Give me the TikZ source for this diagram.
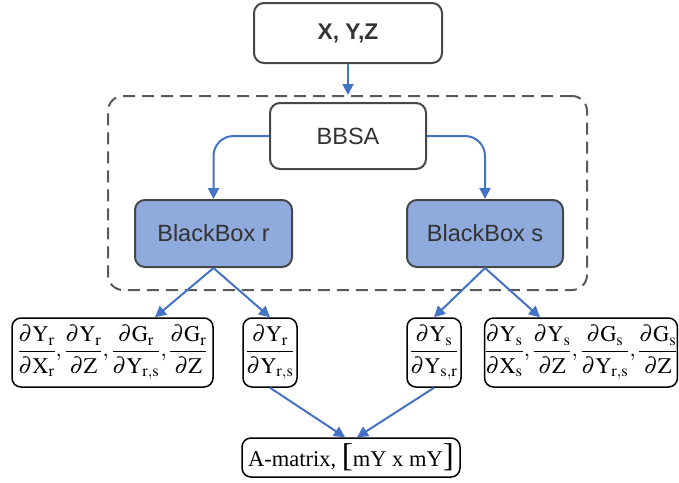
\documentclass[tikz,border=0pt]{standalone}
\usepackage{mathptmx}
\usepackage{fontspec}
\setmainfont{Liberation Serif}
\newfontfamily\arialfam{Liberation Sans}
\usetikzlibrary{arrows.meta,calc}
\definecolor{flowblue}{HTML}{4472C4}
\definecolor{boxfill}{HTML}{8FAADC}
\definecolor{boxedge}{HTML}{474747}
\definecolor{labelgray}{HTML}{333333}
% partial derivative with a little extra room above and below the bar
\newcommand{\pdf}[2]{{\displaystyle\frac{\partial\mathrm{#1}\rule[-4pt]{0pt}{4pt}}{\rule{0pt}{19pt}\partial\mathrm{#2}}}}
% tall square brackets set from the text font
\newcommand{\tallbrk}[1]{{\fontsize{33}{33}\selectfont#1}}
\begin{document}
\begin{tikzpicture}[x=1pt,y=-1pt,
  procbox/.style={draw=boxedge, line width=2pt, rounded corners=10pt, fill=white,
    inner sep=0pt, text=labelgray, font=\arialfam\fontsize{23.5}{27}\selectfont},
  bbox/.style={procbox, fill=boxfill},
  resbox/.style={draw=black, line width=1.5pt, rounded corners=9pt, fill=white,
    inner sep=0pt, font=\fontsize{22.3}{26}\selectfont},
  flow/.style={draw=flowblue, line width=2pt, -{Triangle[length=11pt,width=11pt]}},
  groupline/.style={draw=boxedge!90, line width=2pt, dash pattern=on 12pt off 7pt,
    rounded corners=15pt}
]
\useasboundingbox (0,0) rectangle (679,482);

% grouping frame round the sensitivity analysis block
\node[groupline, minimum width=479pt, minimum height=194pt, inner sep=0pt]
  (frame) at (347.5,193) {};

\node[procbox, minimum width=188pt, minimum height=60pt,
  font=\arialfam\bfseries\fontsize{22.7}{26}\selectfont] (xyz) at (348,33) {X, Y,Z};
\node[procbox, minimum width=156pt, minimum height=66pt] (bbsa) at (348,136) {BBSA};
\node[bbox, minimum width=157pt, minimum height=67pt] (bbr) at (213.5,233.5) {BlackBox r};
\node[bbox, minimum width=156pt, minimum height=67pt] (bbs) at (485,233.5) {BlackBox s};

% derivative outputs
\node[resbox, minimum width=201pt, minimum height=69pt] (dr) at (112.5,352.5)
  {$\pdf{Y_{\mathrm r}}{X_{\mathrm r}},\pdf{Y_{\mathrm r}}{Z},\pdf{G_{\mathrm r}}{Y_{\mathrm{r,s}}},\pdf{G_{\mathrm r}}{Z}$};
\node[resbox, minimum width=54pt, minimum height=69pt] (drs) at (270,352.5)
  {$\pdf{Y_{\mathrm r}}{Y_{\mathrm{r,s}}}$};
\node[resbox, minimum width=54pt, minimum height=69pt] (dsr) at (434,352.5)
  {$\pdf{Y_{\mathrm s}}{Y_{\mathrm{s,r}}}$};
\node[resbox, minimum width=192pt, minimum height=69pt] (ds) at (581,352.5)
  {$\pdf{Y_{\mathrm s}}{X_{\mathrm s}},\pdf{Y_{\mathrm s}}{Z},\pdf{G_{\mathrm s}}{Y_{\mathrm{r,s}}},\pdf{G_{\mathrm s}}{Z}$};

\node[resbox, minimum width=218pt, minimum height=39pt, font=\fontsize{22.5}{25}\selectfont]
  (amat) at (351,457.5) {A-matrix, \tallbrk{[}mY x mY\tallbrk{]}};

% connectors
\draw[flow] (xyz.south) -- (xyz.south |- frame.north);
\draw[flow, rounded corners=20pt] (bbsa.west) -| (bbr.north);
\draw[flow, rounded corners=20pt] (bbsa.east) -| (bbs.north);
\draw[flow] (bbr.south) -- ([xshift=42.5pt]dr.north);
\draw[flow] (bbr.south) -- (drs.north);
\draw[flow] (bbs.south) -- (dsr.north);
\draw[flow] (bbs.south) -- ([xshift=-41pt]ds.north);
\draw[flow] (drs.south) -- ([xshift=-6pt]amat.north);
\draw[flow] (dsr.south) -- ([xshift=6pt]amat.north);
\end{tikzpicture}
\end{document}
